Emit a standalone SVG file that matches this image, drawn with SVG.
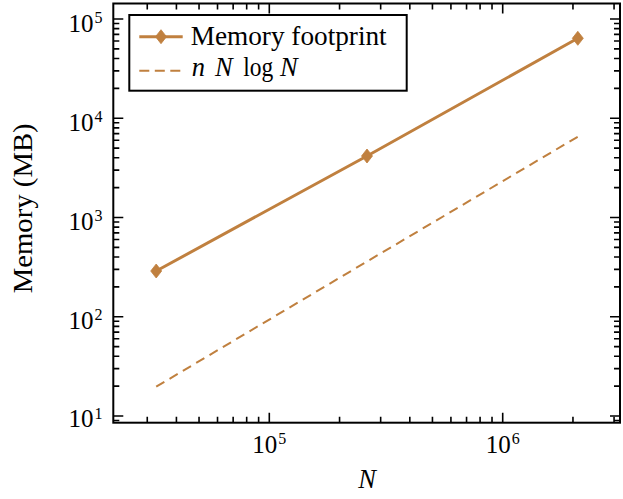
<svg xmlns="http://www.w3.org/2000/svg" xmlns:xlink="http://www.w3.org/1999/xlink" width="623" height="499" viewBox="0 0 623 499">
<style>
.t{font-family:"Liberation Serif","Times New Roman",serif;fill:#000}
.tick{stroke:#000;stroke-width:1.6;fill:none}
.frame{stroke:#000;stroke-width:2;fill:none}
.solid{stroke:#c0803f;stroke-width:3;fill:none;stroke-linejoin:round}
.dash{stroke:#c0803f;stroke-width:2;fill:none;stroke-dasharray:9.5 6}
.mk{fill:#c0803f;stroke:#c0803f;stroke-width:0.8}
</style>
<defs>
<path id="dm" d="M0 -7L5.5 0L0 7L-5.5 0Z"/>
</defs>
<rect width="623" height="499" fill="#fff"/>
<g id="ticks">
<path class="tick" d="M113.3 19h10M113.3 118.25h10M113.3 217.5h10M113.3 316.75h10M113.3 416h10M620 19h-10M620 118.25h-10M620 217.5h-10M620 316.75h-10M620 416h-10M269.3 422.7v-10M502.7 422.7v-10M269.3 3.5v10M502.7 3.5v10"/>
<path class="tick" d="M113.3 420.54h6M113.3 386.12h6M113.3 368.65h6M113.3 356.25h6M113.3 346.63h6M113.3 338.77h6M113.3 332.12h6M113.3 326.37h6M113.3 321.29h6M113.3 286.87h6M113.3 269.4h6M113.3 257h6M113.3 247.38h6M113.3 239.52h6M113.3 232.87h6M113.3 227.12h6M113.3 222.04h6M113.3 187.62h6M113.3 170.15h6M113.3 157.75h6M113.3 148.13h6M113.3 140.27h6M113.3 133.62h6M113.3 127.87h6M113.3 122.79h6M113.3 88.37h6M113.3 70.9h6M113.3 58.5h6M113.3 48.88h6M113.3 41.02h6M113.3 34.37h6M113.3 28.62h6M113.3 23.54h6"/>
<path class="tick" d="M620 420.54h-6M620 386.12h-6M620 368.65h-6M620 356.25h-6M620 346.63h-6M620 338.77h-6M620 332.12h-6M620 326.37h-6M620 321.29h-6M620 286.87h-6M620 269.4h-6M620 257h-6M620 247.38h-6M620 239.52h-6M620 232.87h-6M620 227.12h-6M620 222.04h-6M620 187.62h-6M620 170.15h-6M620 157.75h-6M620 148.13h-6M620 140.27h-6M620 133.62h-6M620 127.87h-6M620 122.79h-6M620 88.37h-6M620 70.9h-6M620 58.5h-6M620 48.88h-6M620 41.02h-6M620 34.37h-6M620 28.62h-6M620 23.54h-6"/>
<path class="tick" d="M147.26 422.7v-6M176.42 422.7v-6M199.04 422.7v-6M217.52 422.7v-6M233.15 422.7v-6M246.68 422.7v-6M258.62 422.7v-6M339.56 422.7v-6M380.66 422.7v-6M409.82 422.7v-6M432.44 422.7v-6M450.92 422.7v-6M466.55 422.7v-6M480.08 422.7v-6M492.02 422.7v-6M572.96 422.7v-6M614.06 422.7v-6"/>
<path class="tick" d="M147.26 3.5v6M176.42 3.5v6M199.04 3.5v6M217.52 3.5v6M233.15 3.5v6M246.68 3.5v6M258.62 3.5v6M339.56 3.5v6M380.66 3.5v6M409.82 3.5v6M432.44 3.5v6M450.92 3.5v6M466.55 3.5v6M480.08 3.5v6M492.02 3.5v6M572.96 3.5v6M614.06 3.5v6"/>
</g>
<g id="series">
<polyline class="dash" points="156.2,386.7 367,261.5 577.8,136.7"/>
<polyline class="solid" points="156.2,271 367,156 577.8,38.3"/>
<use xlink:href="#dm" class="mk" x="156.2" y="271"/>
<use xlink:href="#dm" class="mk" x="367" y="156"/>
<use xlink:href="#dm" class="mk" x="577.8" y="38.3"/>
</g>
<rect id="axes-frame" class="frame" x="113.3" y="3.5" width="506.7" height="419.2"/>
<g id="yticklabels" class="t" font-size="25">
<text x="68.5" y="31.5">10<tspan dx="1" dy="-8.5" font-size="16">5</tspan></text>
<text x="68.5" y="130.5">10<tspan dx="1" dy="-8.5" font-size="16">4</tspan></text>
<text x="68.5" y="229.5">10<tspan dx="1" dy="-8.5" font-size="16">3</tspan></text>
<text x="68.5" y="328.5">10<tspan dx="1" dy="-8.5" font-size="16">2</tspan></text>
<text x="68.5" y="427">10<tspan dx="1" dy="-8.5" font-size="16">1</tspan></text>
</g>
<g id="xticklabels" class="t" font-size="25">
<text x="252.3" y="452.7">10<tspan dx="1" dy="-9" font-size="16">5</tspan></text>
<text x="485.7" y="452.7">10<tspan dx="1" dy="-9" font-size="16">6</tspan></text>
</g>
<text id="xlabel" class="t" x="367" y="488.3" font-size="26.5" font-style="italic" text-anchor="middle">N</text>
<text id="ylabel" class="t" font-size="26.5" text-anchor="middle" transform="translate(32,208.3) rotate(-90)" textLength="170" lengthAdjust="spacingAndGlyphs">Memory (MB)</text>
<g id="legend">
<rect class="frame" x="129.3" y="15" width="277.4" height="75.7" fill="#fff"/>
<line class="solid" x1="139.3" y1="36.7" x2="182.7" y2="36.7"/>
<use xlink:href="#dm" class="mk" x="161" y="36.7"/>
<line class="dash" x1="139.3" y1="70.7" x2="182.7" y2="70.7" style="stroke-dasharray:10 5.5"/>
<text class="t" x="190.7" y="45" font-size="26.5" textLength="196" lengthAdjust="spacingAndGlyphs">Memory footprint</text>
<text class="t" y="76" font-size="26.5"><tspan x="191.7" font-style="italic">n</tspan><tspan x="215" font-style="italic">N</tspan><tspan x="243.3" textLength="30" lengthAdjust="spacingAndGlyphs">log</tspan><tspan x="280" font-style="italic">N</tspan></text>
</g>
</svg>
